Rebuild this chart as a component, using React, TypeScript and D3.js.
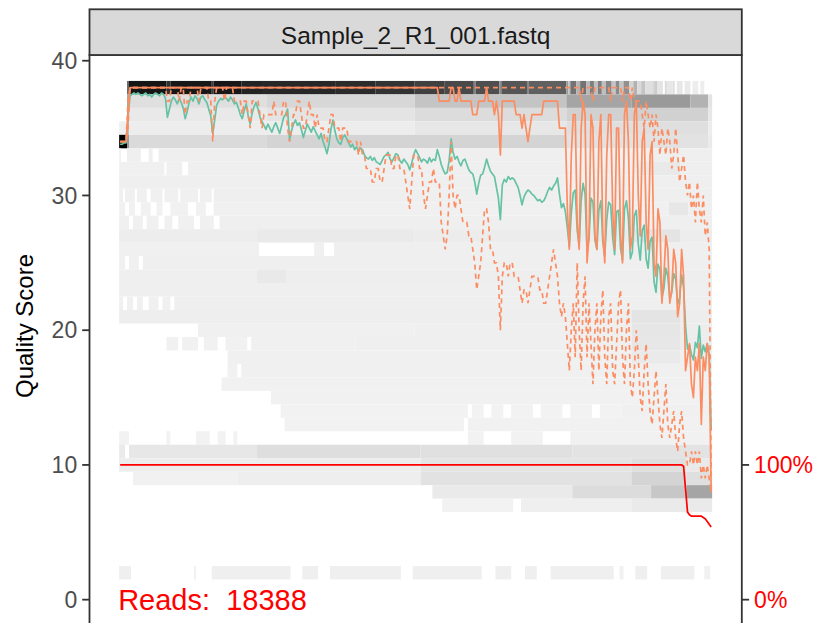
import React from "react";
import * as d3 from "d3";

// ---------------- data ----------------
const SAMPLE_NAME = "Sample_2_R1_001.fastq";
const READ_COUNT = 18388;
const Y_TICKS = [0, 10, 20, 30, 40];
const RIGHT_TICKS = [0, 100];
const RIGHT_LABELS = ["0%", "100%"];

// mean quality per cycle (cycles 1..301), rows of 10 cycles
const meanQ = [
  33.8,33.8,33.9,33.9,35.8,37.4,37.5,37.6,37.5,37.6,
  37.5,37.4,37.5,37.6,37.4,37.5,37.3,37.5,37.6,37.5,
  37.4,37.6,37.5,37.2,35.8,36.4,37.0,37.3,37.1,36.8,
  37.2,36.9,36.5,35.7,36.2,36.9,37.3,37.0,37.4,37.2,
  36.8,37.3,37.4,37.1,36.9,36.4,35.9,34.6,35.6,36.7,
  37.0,37.2,37.1,37.3,37.2,37.0,37.3,37.1,36.8,36.9,
  36.5,36.0,35.7,36.3,36.8,35.9,35.3,36.1,36.6,36.9,
  36.4,35.8,35.5,35.2,34.9,35.3,35.0,34.7,35.1,35.4,
  35.0,34.6,35.2,35.8,36.0,36.4,34.1,34.8,35.3,35.6,
  35.2,35.4,34.9,34.3,34.8,35.3,35.0,34.7,35.1,34.8,
  34.5,34.2,34.6,34.0,33.6,33.1,33.8,34.9,35.6,34.8,
  34.2,33.9,33.8,34.3,34.5,34.2,33.9,33.6,33.8,33.4,
  33.6,33.3,33.5,33.4,33.0,32.8,32.7,32.9,32.6,32.8,
  32.5,32.4,32.3,32.6,32.9,33.0,33.2,32.7,32.5,32.8,
  33.1,33.0,32.6,32.4,32.7,32.5,32.3,31.9,32.4,33.0,
  33.4,33.1,32.8,32.5,32.7,32.6,32.4,32.8,32.5,32.7,
  32.6,33.4,32.9,32.3,31.9,31.6,31.7,32.6,34.2,33.2,
  32.7,32.9,32.5,32.2,32.6,32.7,32.3,31.9,31.7,31.6,
  31.0,30.1,30.9,31.5,31.6,32.1,32.7,32.2,31.8,31.6,
  31.4,30.6,29.8,28.2,30.8,31.2,31.0,31.4,31.2,31.3,
  31.2,30.9,30.6,30.0,29.3,29.9,30.2,30.4,30.3,30.1,
  30.0,29.8,29.6,29.7,29.5,29.6,29.9,30.3,30.6,30.4,
  30.7,30.9,31.3,30.1,29.1,29.4,28.8,27.6,26.2,28.7,
  30.2,30.4,27.4,26.3,29.6,30.9,30.1,25.9,26.8,29.8,
  29.5,26.7,26.0,28.9,29.6,26.6,25.5,28.2,29.5,29.3,
  26.9,25.6,28.8,28.9,26.1,25.2,29.0,29.6,28.3,25.3,
  25.8,28.5,28.9,26.4,25.2,27.4,27.8,25.3,24.6,26.6,
  26.9,23.6,22.8,24.9,24.5,22.4,23.1,24.6,24.0,22.3,
  22.8,24.2,23.8,21.9,22.4,24.1,23.2,20.3,18.6,18.9,
  18.2,17.8,19.1,18.7,20.3,17.9,18.9,18.4,19.0,18.2,
  12.6,
];

const medianQ = [
  34,34,34,34,36,38,38,38,38,38,
  38,38,38,38,38,38,38,38,38,38,
  38,38,38,38,38,38,38,38,38,38,
  38,38,38,38,38,38,38,38,38,38,
  38,38,38,38,38,38,38,38,38,38,
  38,38,38,38,38,38,38,38,38,38,
  38,38,38,38,38,38,38,38,38,38,
  38,38,38,38,38,38,38,38,38,38,
  38,38,38,38,38,38,38,38,38,38,
  38,38,38,38,38,38,38,38,38,38,
  38,38,38,38,38,38,38,38,38,38,
  38,38,38,38,38,38,38,38,38,38,
  38,38,38,38,38,38,38,38,38,38,
  38,38,38,38,38,38,38,38,38,38,
  38,38,38,38,38,38,38,38,38,38,
  38,38,38,38,38,38,38,38,38,38,
  38,38,37,37,37,37,37,37,38,38,
  37,37,38,37,37,37,37,37,37,36,
  36,36,37,37,37,37,38,37,37,37,
  36,37,36,33,37,37,37,37,37,37,
  37,36,36,36,35,36,35,34,35,36,
  36,36,36,36,36,37,37,37,37,37,
  37,37,37,35,35,35,35,29,26,33,
  36,36,28,26,35,37,36,25,27,36,
  35,27,26,34,36,27,25,33,36,36,
  29,26,35,35,27,25,36,37,34,26,
  27,36,37,30,27,34,35,28,26,33,
  34,25,24,29,28,22,24,27,26,22,
  23,26,25,21,22,26,24,17,18,19,
  16,15,18,17,19,13,18,17,19,18,
  8,
];

const q25 = [
  34,34,34,34,35,38,38,38,38,38,
  38,38,38,38,38,38,38,38,38,38,
  38,38,38,38,37,37,38,38,38,38,
  37,38,38,36,37,37,38,38,38,38,
  37,38,38,38,38,37,37,34,37,38,
  38,38,38,37,38,38,38,38,37,37,
  37,37,36,37,37,36,35,37,37,37,
  37,36,35,36,36,36,36,36,37,36,
  36,36,36,37,37,35,34,35,36,36,
  37,37,36,35,35,36,37,36,36,35,
  36,35,35,35,34,34,35,36,36,35,
  35,35,34,35,35,35,34,34,34,34,
  34,33,34,33,33,32,32,32,31,31,
  32,32,31,31,32,33,33,33,32,32,
  33,33,32,32,32,31,30,29,31,33,
  33,33,32,32,30,29,30,31,31,32,
  31,31,31,28,27,26,27,30,34,30,
  29,30,30,29,28,28,28,27,27,26,
  25,23,24,25,27,29,29,28,26,26,
  25,25,24,20,24,25,25,24,25,25,
  24,24,24,23,22,23,23,22,23,24,
  24,24,24,23,23,22,22,23,24,25,
  26,25,24,22,21,22,21,19,17,20,
  22,18,25,20,17,22,24,18,22,19,
  16,20,22,17,21,23,18,16,21,22,
  17,16,19,22,23,18,16,20,22,16,
  15,17,20,18,15,14,17,19,16,14,
  13,15,17,15,13,12,14,16,13,12,
  13,14,12,11,13,14,12,11,10,10,
  11,10,11,10,11,9,10,9,10,9,
  8,
];

const q75 = [
  34,34,34,34,37,38,38,38,38,38,
  38,38,38,38,38,38,38,38,38,38,
  38,38,38,38,38,38,38,38,38,38,
  38,38,38,38,38,38,38,38,38,38,
  38,38,38,38,38,38,38,38,38,38,
  38,38,38,38,38,38,38,38,38,38,
  38,38,38,38,38,38,38,38,38,38,
  38,38,38,38,38,38,38,38,38,38,
  38,38,38,38,38,38,38,38,38,38,
  38,38,38,38,38,38,38,38,38,38,
  38,38,38,38,38,38,38,38,38,38,
  38,38,38,38,38,38,38,38,38,38,
  38,38,38,38,38,38,38,38,38,38,
  38,38,38,38,38,38,38,38,38,38,
  38,38,38,38,38,38,38,38,38,38,
  38,38,38,38,38,38,38,38,38,38,
  38,38,38,38,38,38,38,38,38,38,
  38,38,38,38,38,38,38,38,38,38,
  38,38,38,38,38,38,38,38,38,38,
  38,38,38,38,38,38,38,38,38,38,
  38,38,38,38,38,38,38,38,38,38,
  38,38,38,38,38,38,38,38,38,38,
  38,38,38,38,38,38,38,38,38,38,
  38,38,38,38,37,38,38,38,38,38,
  37,38,38,38,38,38,38,38,38,37,
  38,38,38,38,38,37,38,38,38,37,
  38,37,37,37,37,36,35,37,36,35,
  36,34,36,35,33,35,34,33,35,34,
  32,33,35,33,31,32,33,31,30,31,
  29,30,28,31,29,28,30,27,28,26,
  9,
];

// share of reads reaching a cycle (%), read at the break points of the red line
const cumCycle = [1, 286, 287, 288, 289, 290, 291, 296, 297, 298, 299, 300, 301];
const cumPct = [100, 100, 99, 82, 65, 63, 62, 62, 61, 60, 58, 56, 54];

// heat-map tiles: [score, first cycle, last cycle, relative count 0..1]
const heatTiles: [number, number, number, number][] = [
  [38,5,5,0.55],[38,6,24,0.93],[38,25,26,0.8],[38,27,47,0.92],[38,48,48,0.75],[38,49,62,0.92],
  [38,63,73,0.86],[38,74,110,0.84],[38,111,130,0.82],[38,131,150,0.78],[38,151,165,0.72],
  [38,166,180,0.68],[38,181,181,0.45],[38,182,193,0.65],[38,194,194,0.4],[38,195,207,0.62],
  [38,208,208,0.42],[38,209,227,0.58],[38,228,228,0.35],[38,229,229,0.2],[38,230,232,0.5],
  [38,233,234,0.25],[38,235,237,0.5],[38,238,239,0.22],[38,240,241,0.45],[38,242,243,0.2],
  [38,244,245,0.45],[38,246,247,0.2],[38,248,250,0.42],[38,251,252,0.18],[38,253,254,0.4],
  [38,255,256,0.18],[38,257,259,0.38],[38,260,261,0.12],[38,262,263,0.25],[38,264,265,0.1],
  [38,266,267,0.18],[38,268,271,0.08],[38,272,272,0.12],[38,273,273,0.15],[38,274,276,0.06],
  [38,278,278,0.1],[38,279,281,0.05],[38,282,282,0.08],[38,284,286,0.05],[38,288,290,0.04],
  [38,292,294,0.03],[38,296,297,0.03],
  [37,5,5,0.3],[37,6,75,0.08],[37,76,150,0.11],[37,151,227,0.18],[37,228,260,0.3],
  [37,261,290,0.34],[37,291,299,0.25],[37,300,301,0.06],
  [36,5,5,0.45],[36,6,75,0.045],[36,76,150,0.06],[36,151,227,0.09],[36,228,299,0.13],[36,300,301,0.05],
  [35,1,4,0.02],[35,5,5,0.2],[35,6,150,0.03],[35,151,227,0.05],[35,228,299,0.08],[35,300,301,0.03],
  [34,1,4,1.0],[34,5,5,0.35],[34,6,75,0.1],[34,76,227,0.12],[34,228,299,0.07],[34,300,301,0.04],
  [33,1,1,0.01],[33,5,11,0.02],[33,16,17,0.02],[33,21,301,0.02],
  [32,1,23,0.018],[32,25,32,0.018],[32,36,264,0.02],[32,265,285,0.045],[32,286,301,0.02],
  [31,1,301,0.022],
  [30,1,2,0.018],[30,4,8,0.018],[30,10,14,0.018],[30,17,22,0.018],[30,24,30,0.018],[30,32,40,0.018],
  [30,42,47,0.018],[30,49,301,0.022],
  [29,1,3,0.015],[29,6,8,0.015],[29,12,16,0.015],[29,20,22,0.015],[29,27,35,0.015],[29,40,44,0.015],
  [29,49,279,0.018],[29,280,289,0.05],[29,290,301,0.02],
  [28,1,5,0.018],[28,8,12,0.018],[28,15,20,0.018],[28,24,27,0.018],[28,31,38,0.018],[28,42,48,0.018],
  [28,52,301,0.022],
  [27,1,70,0.028],[27,71,150,0.04],[27,151,260,0.032],[27,261,285,0.06],[27,286,301,0.028],
  [26,1,71,0.018],[26,100,104,0.018],[26,110,301,0.022],
  [25,1,3,0.018],[25,6,10,0.018],[25,13,301,0.022],
  [24,1,70,0.022],[24,71,85,0.045],[24,86,301,0.026],
  [23,1,301,0.022],
  [22,1,2,0.018],[22,5,7,0.018],[22,10,12,0.018],[22,16,20,0.018],[22,23,26,0.018],[22,29,301,0.022],
  [21,1,260,0.026],[21,261,285,0.06],[21,286,301,0.028],
  [20,41,150,0.018],[20,151,260,0.022],[20,261,285,0.055],[20,286,301,0.028],
  [19,25,30,0.015],[19,33,40,0.015],[19,44,50,0.015],[19,55,65,0.015],[19,68,120,0.018],
  [19,121,260,0.022],[19,261,285,0.05],[19,286,301,0.028],
  [18,56,260,0.018],[18,261,285,0.04],[18,286,301,0.02],
  [17,56,60,0.015],[17,63,301,0.018],
  [16,53,301,0.015],
  [15,78,301,0.015],
  [14,83,177,0.012],[14,180,185,0.012],[14,190,195,0.012],[14,200,210,0.012],[14,215,225,0.012],
  [14,230,240,0.012],[14,245,255,0.012],[14,256,301,0.018],
  [13,85,175,0.01],[13,178,301,0.015],
  [12,1,5,0.01],[12,25,26,0.01],[12,40,46,0.01],[12,51,54,0.01],[12,59,60,0.01],[12,178,185,0.01],
  [12,200,215,0.01],[12,230,301,0.015],
  [11,1,3,0.04],[11,6,70,0.05],[11,71,153,0.085],[11,154,230,0.075],[11,231,301,0.065],
  [10,1,153,0.03],[10,154,260,0.06],[10,261,288,0.08],[10,289,301,0.04],
  [9,8,60,0.015],[9,61,153,0.025],[9,154,260,0.07],[9,261,288,0.12],[9,289,301,0.08],
  [8,160,230,0.04],[8,231,270,0.09],[8,271,288,0.17],[8,289,301,0.3],
  [7,165,200,0.01],[7,205,260,0.02],[7,261,301,0.04],
  [2,1,6,0.02],[2,39,39,0.015],[2,48,87,0.02],[2,94,101,0.02],[2,108,143,0.02],[2,150,184,0.02],
  [2,192,199,0.02],[2,207,212,0.02],[2,220,251,0.02],[2,255,256,0.015],[2,263,268,0.02],
  [2,276,292,0.02],[2,298,300,0.015],
];

// ---------------- layout ----------------
const W = 818;
const H = 623;
const PL = 89.5;
const PR = 741.8;
const PT = 55;
const PB = 625.6;
const STRIP_TOP = 9.3;
const FONT = "'Liberation Sans', Arial, Helvetica, sans-serif";

export default function App() {
  const nCycles = meanQ.length;
  const cycles = d3.range(1, nCycles + 1);
  const x = d3.scaleLinear().domain([0.5 - 0.05 * nCycles, nCycles + 0.5 + 0.05 * nCycles]).range([PL, PR]);
  const y = d3.scaleLinear().domain([-1.925, 40.425]).range([PB, PT]);
  const fill = d3
    .scaleLinear<string>()
    .domain([0, 1])
    .range(["#F5F5F5", "#000000"])
    .interpolate(d3.interpolateLab);

  const seriesLine = (vals: number[]) =>
    d3
      .line<number>()
      .x((_, i) => x(cycles[i]))
      .y((v) => y(v))(vals) || "";

  const cumLine =
    d3
      .line<number>()
      .x((_, i) => x(cumCycle[i]))
      .y((v) => y(v / 10))(cumPct) || "";

  const tickLen = 7.3;

  return (
    <svg
      width={W}
      height={H}
      viewBox={`0 0 ${W} ${H}`}
      style={{ position: "absolute", left: 0, top: 0, display: "block", background: "#fff" }}
    >
      <defs>
        <clipPath id="panelClip">
          <rect x={PL} y={PT} width={PR - PL} height={PB - PT} />
        </clipPath>
      </defs>
      <rect x={0} y={0} width={W} height={H} fill="#fff" />
      <rect x={PL} y={PT} width={PR - PL} height={PB - PT} fill="#fff" />

      <g clipPath="url(#panelClip)">
        {heatTiles.map(([s, c0, c1, lv], i) => (
          <rect
            key={i}
            x={x(c0 - 0.5)}
            width={x(c1 + 0.5) - x(c0 - 0.5)}
            y={y(s + 0.5)}
            height={y(s - 0.5) - y(s + 0.5)}
            fill={fill(lv)}
          />
        ))}
        <path d={seriesLine(meanQ)} fill="none" stroke="#66C2A5" strokeWidth={1.7} strokeLinejoin="round" />
        <path d={seriesLine(q25)} fill="none" stroke="#FC8D62" strokeWidth={1.7} strokeDasharray="5 4" />
        <path d={seriesLine(medianQ)} fill="none" stroke="#FC8D62" strokeWidth={1.7} strokeLinejoin="round" />
        <path d={seriesLine(q75)} fill="none" stroke="#FC8D62" strokeWidth={1.7} strokeDasharray="5 4" />
        <path d={cumLine} fill="none" stroke="#FF0000" strokeWidth={1.7} />
        <text
          x={x(0)}
          y={y(0) + 0.358 * 29}
          fill="#FF0000"
          fontFamily={FONT}
          fontSize={29}
          style={{ whiteSpace: "pre" }}
        >
          {`Reads:  ${READ_COUNT}`}
        </text>
      </g>

      {/* panel border */}
      <rect x={PL} y={PT} width={PR - PL} height={PB - PT} fill="none" stroke="#333333" strokeWidth={1.8} />

      {/* strip */}
      <rect x={PL} y={STRIP_TOP} width={PR - PL} height={PT - STRIP_TOP} fill="#D9D9D9" stroke="#333333" strokeWidth={1.8} />
      <text x={(PL + PR) / 2} y={44} textAnchor="middle" fontFamily={FONT} fontSize={24.5} fill="#1A1A1A">
        {SAMPLE_NAME}
      </text>

      {/* left axis */}
      {Y_TICKS.map((t) => (
        <g key={`l${t}`}>
          <line x1={PL - tickLen} x2={PL} y1={y(t)} y2={y(t)} stroke="#333333" strokeWidth={1.8} />
          <text
            x={PL - tickLen - 5}
            y={y(t) + 0.358 * 23}
            textAnchor="end"
            fontFamily={FONT}
            fontSize={23}
            fill="#4D4D4D"
          >
            {t}
          </text>
        </g>
      ))}

      {/* right secondary axis */}
      {RIGHT_TICKS.map((t, i) => (
        <g key={`r${t}`}>
          <line x1={PR} x2={PR + tickLen} y1={y(t / 10)} y2={y(t / 10)} stroke="#333333" strokeWidth={1.8} />
          <text
            x={PR + tickLen + 5}
            y={y(t / 10) + 0.358 * 23}
            textAnchor="start"
            fontFamily={FONT}
            fontSize={23}
            fill="#FF0000"
          >
            {RIGHT_LABELS[i]}
          </text>
        </g>
      ))}

      {/* y axis title */}
      <text
        transform={`translate(33, 326) rotate(-90)`}
        textAnchor="middle"
        fontFamily={FONT}
        fontSize={24}
        fill="#000000"
      >
        Quality Score
      </text>
    </svg>
  );
}
